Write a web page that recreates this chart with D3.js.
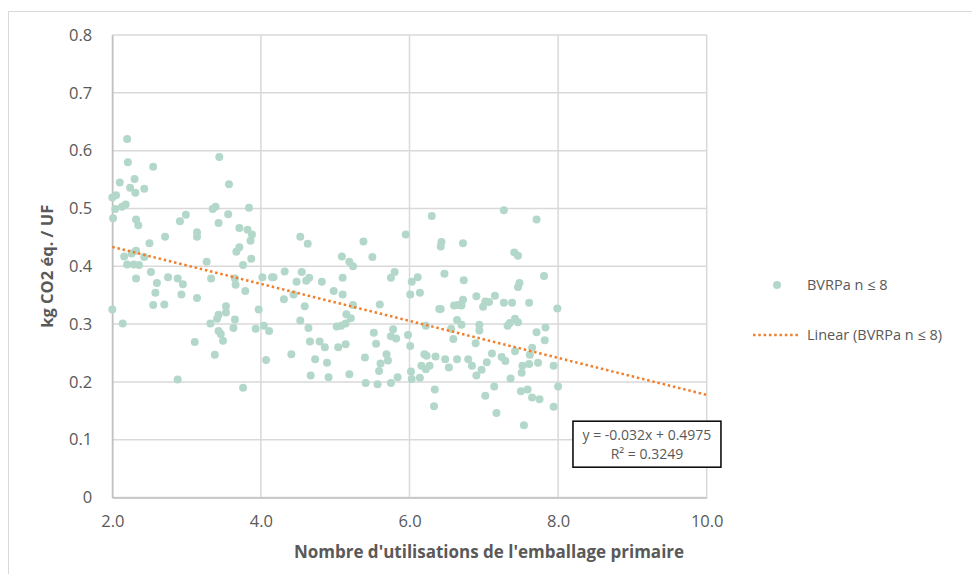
<!DOCTYPE html>
<html>
<head>
<meta charset="utf-8">
<script src="https://cdn.jsdelivr.net/npm/d3@7"></script>
<style>
  body { margin: 0; background: #fff; }
  text { font-family: "Open Sans", "Noto Sans", sans-serif; fill: #595959; }
</style>
</head>
<body>
<svg id="chart" width="972" height="574"></svg>
<script>
// nombre d'utilisations (x) et kg CO2 eq / UF (y)
var usesX = [
  2.20, 2.21, 3.44, 2.55, 2.10, 2.30, 3.57, 2.24, 2.31, 2.43, 2.00, 2.05, 2.04, 2.13, 2.18, 3.35, 3.39, 3.84,
  2.01, 2.99, 2.91, 3.56, 3.43, 2.32, 2.35, 3.71, 3.82, 3.88, 3.86, 3.14, 3.14, 2.71, 2.50, 3.71, 3.67, 2.32,
  2.26, 2.16, 2.43, 3.87, 3.27, 3.76, 2.20, 2.29, 2.36, 2.52, 2.75, 2.88, 2.32, 2.60, 2.95, 3.33, 3.65, 4.02,
  4.15, 4.53, 4.63, 5.38, 5.50, 5.95, 6.30, 5.09, 5.19, 5.24, 4.17, 4.32, 4.55, 4.65, 4.61, 4.48, 4.82, 5.10,
  5.80, 5.75, 6.11, 6.03, 7.27, 7.71, 6.43, 6.42, 6.72, 7.41, 7.46, 6.47, 6.73, 7.48, 7.81, 3.66, 2.58, 2.93,
  2.55, 2.70, 3.14, 2.00, 2.14, 3.79, 3.53, 3.53, 3.43, 3.41, 3.32, 3.65, 3.63, 3.97, 3.43, 3.46, 3.49, 3.11,
  3.38, 3.93, 4.04, 4.11, 4.07, 2.88, 3.76, 4.31, 4.44, 4.98, 5.10, 4.59, 5.24, 5.15, 5.21, 5.60, 6.01, 6.14,
  6.40, 4.53, 4.64, 5.02, 5.08, 5.14, 4.66, 4.79, 4.86, 5.04, 5.14, 5.52, 5.55, 5.78, 5.75, 5.82, 5.98, 6.01,
  6.22, 4.41, 4.73, 4.89, 5.40, 5.69, 5.71, 5.61, 5.59, 6.20, 6.23, 6.35, 6.16, 6.27, 6.22, 6.02, 6.03, 6.14,
  4.67, 4.91, 5.19, 5.41, 5.57, 5.75, 5.84, 6.34, 6.33, 7.46, 6.42, 6.60, 6.65, 6.72, 6.70, 6.90, 7.15, 7.02,
  6.99, 7.07, 7.27, 7.38, 7.61, 7.99, 6.64, 6.70, 6.56, 6.59, 6.94, 6.94, 6.89, 7.32, 7.35, 7.42, 7.46, 7.71,
  7.83, 7.82, 7.65, 7.62, 7.42, 7.11, 6.48, 6.64, 6.79, 6.84, 6.53, 7.04, 6.97, 6.90, 7.24, 7.29, 7.52, 7.51,
  7.61, 7.73, 7.94, 7.36, 7.14, 7.02, 7.50, 7.59, 7.65, 7.75, 8.00, 7.94, 7.17, 7.54
];
var co2Y = [
  0.620, 0.580, 0.589, 0.572, 0.545, 0.551, 0.542, 0.536, 0.527, 0.534, 0.519, 0.523, 0.499, 0.503, 0.507, 0.499, 0.503, 0.501,
  0.483, 0.489, 0.478, 0.490, 0.475, 0.481, 0.471, 0.466, 0.463, 0.455, 0.444, 0.459, 0.451, 0.451, 0.440, 0.433, 0.425, 0.427,
  0.422, 0.417, 0.416, 0.413, 0.408, 0.402, 0.403, 0.403, 0.402, 0.390, 0.381, 0.379, 0.379, 0.371, 0.369, 0.379, 0.379, 0.381,
  0.381, 0.451, 0.439, 0.443, 0.416, 0.455, 0.487, 0.417, 0.408, 0.400, 0.381, 0.391, 0.390, 0.380, 0.375, 0.373, 0.373, 0.380,
  0.390, 0.380, 0.381, 0.373, 0.497, 0.481, 0.442, 0.434, 0.440, 0.424, 0.418, 0.387, 0.376, 0.371, 0.383, 0.368, 0.354, 0.351,
  0.333, 0.334, 0.345, 0.325, 0.301, 0.357, 0.331, 0.320, 0.316, 0.309, 0.301, 0.308, 0.293, 0.325, 0.288, 0.283, 0.271, 0.269,
  0.247, 0.292, 0.297, 0.288, 0.238, 0.204, 0.190, 0.343, 0.351, 0.357, 0.351, 0.331, 0.333, 0.317, 0.310, 0.334, 0.351, 0.354,
  0.326, 0.306, 0.293, 0.296, 0.297, 0.301, 0.270, 0.270, 0.260, 0.260, 0.265, 0.285, 0.266, 0.291, 0.279, 0.275, 0.281, 0.262,
  0.297, 0.248, 0.239, 0.233, 0.242, 0.248, 0.237, 0.232, 0.219, 0.248, 0.245, 0.244, 0.228, 0.228, 0.222, 0.218, 0.205, 0.207,
  0.211, 0.208, 0.213, 0.198, 0.196, 0.198, 0.208, 0.187, 0.158, 0.364, 0.326, 0.332, 0.333, 0.342, 0.332, 0.348, 0.349, 0.339,
  0.330, 0.338, 0.337, 0.337, 0.337, 0.327, 0.307, 0.299, 0.292, 0.274, 0.299, 0.289, 0.267, 0.297, 0.302, 0.309, 0.303, 0.286,
  0.294, 0.272, 0.259, 0.247, 0.253, 0.249, 0.239, 0.239, 0.239, 0.228, 0.225, 0.234, 0.221, 0.211, 0.243, 0.236, 0.228, 0.216,
  0.231, 0.233, 0.228, 0.206, 0.192, 0.176, 0.184, 0.187, 0.173, 0.170, 0.192, 0.157, 0.146, 0.125
];

var xTicks = [2, 4, 6, 8, 10];
var yTicks = [0, 0.1, 0.2, 0.3, 0.4, 0.5, 0.6, 0.7, 0.8];

// droite de tendance Excel
var slope = -0.032, intercept = 0.4975;
var eqLabel = "y = -0.032x + 0.4975";
var r2Label = "R\u00b2 = 0.3249";
var seriesName = "BVRPa n \u2264 8";
var trendName = "Linear (BVRPa n \u2264 8)";

function makeChart() {
    var data = usesX.map((x, i) => ({ x: x, y: co2Y[i] }));

    var svg = d3.select("#chart");
    var pxLeft = 112.3, pxRight = 706.7, pxTop = 35, pxBottom = 497.5;
    var pointColor = "#b3d8ca", trendColor = "#f07f2c";

    // cadre du graphique
    svg.append("rect")
        .attr("x", 8.5).attr("y", 11.5).attr("width", 1000).attr("height", 600)
        .attr("fill", "none").attr("stroke", "#d9d9d9");

    var scX = d3.scaleLinear().domain([2, 10]).range([pxLeft, pxRight]);
    var scY = d3.scaleLinear().domain([0, 0.8]).range([pxBottom, pxTop]);

    // grille
    svg.append("g")
        .selectAll("line")
        .data(yTicks)
        .enter()
        .append("line")
        .attr("x1", pxLeft).attr("x2", pxRight)
        .attr("y1", d => scY(d)).attr("y2", d => scY(d))
        .attr("stroke", "#d9d9d9").attr("stroke-width", 1.5);

    svg.append("g")
        .selectAll("line")
        .data(xTicks)
        .enter()
        .append("line")
        .attr("x1", d => scX(d)).attr("x2", d => scX(d))
        .attr("y1", pxTop).attr("y2", pxBottom)
        .attr("stroke", "#d9d9d9").attr("stroke-width", 1.5);

    // axes
    var axY = svg.append("g")
        .attr("transform", "translate(" + pxLeft + ",0)")
        .call(d3.axisLeft(scY).tickValues(yTicks).tickSize(0).tickPadding(20)
            .tickFormat(d => d === 0 ? "0" : d3.format(".1f")(d)));
    axY.select(".domain").attr("stroke", "#bfbfbf").attr("stroke-width", 1.5);
    axY.selectAll("text").style("font-size", "16.5px").attr("fill", "#595959")
        .style("font-family", "'Open Sans', sans-serif");

    var axX = svg.append("g")
        .attr("transform", "translate(0," + pxBottom + ")")
        .call(d3.axisBottom(scX).tickValues(xTicks).tickSize(0).tickPadding(18)
            .tickFormat(d3.format(".1f")));
    axX.select(".domain").attr("stroke", "#bfbfbf").attr("stroke-width", 1.5);
    axX.selectAll("text").style("font-size", "16.5px").attr("fill", "#595959")
        .style("font-family", "'Open Sans', sans-serif");

    // points
    svg.append("g")
        .selectAll("circle")
        .data(data)
        .enter()
        .append("circle")
        .attr("r", 4)
        .attr("fill", pointColor)
        .attr("cx", d => scX(d.x))
        .attr("cy", d => scY(d.y));

    // tendance lineaire
    var lineMaker = d3.line().x(d => scX(d)).y(d => scY(slope * d + intercept));
    svg.append("path")
        .attr("d", lineMaker([2, 10]))
        .attr("fill", "none")
        .attr("stroke", trendColor)
        .attr("stroke-width", 2.5)
        .attr("stroke-dasharray", "2.5,2.8");

    // equation
    var eqBox = svg.append("g").attr("transform", "translate(" + scX(8.2) + "," + scY(0.132) + ")");
    eqBox.append("rect")
        .attr("width", 148).attr("height", 46)
        .attr("fill", "#fff").attr("stroke", "#000").attr("stroke-width", 1.5);
    eqBox.append("text").attr("x", 74).attr("y", 19).attr("text-anchor", "middle")
        .style("font-size", "14px").text(eqLabel);
    eqBox.append("text").attr("x", 74).attr("y", 38).attr("text-anchor", "middle")
        .style("font-size", "14px").text(r2Label);

    // titres
    svg.append("text")
        .attr("x", 489).attr("y", 558)
        .attr("text-anchor", "middle")
        .style("font-size", "17px").style("font-weight", "bold")
        .text("Nombre d'utilisations de l'emballage primaire");

    svg.append("text")
        .attr("transform", "translate(53," + scY(0.4) + ") rotate(-90)")
        .attr("text-anchor", "middle")
        .style("font-size", "16.5px").style("font-weight", "bold")
        .text("kg CO2 \u00e9q. / UF");

    // legende
    var leg = svg.append("g");
    leg.append("circle").attr("cx", 777).attr("cy", 285).attr("r", 4).attr("fill", pointColor);
    leg.append("text").attr("x", 807).attr("y", 290).style("font-size", "14.5px").text(seriesName);
    leg.append("line").attr("x1", 753).attr("x2", 798).attr("y1", 335).attr("y2", 335)
        .attr("stroke", trendColor).attr("stroke-width", 2.5).attr("stroke-dasharray", "2.5,2.8");
    leg.append("text").attr("x", 807).attr("y", 340).style("font-size", "14.5px").text(trendName);
}

makeChart();
</script>
</body>
</html>
